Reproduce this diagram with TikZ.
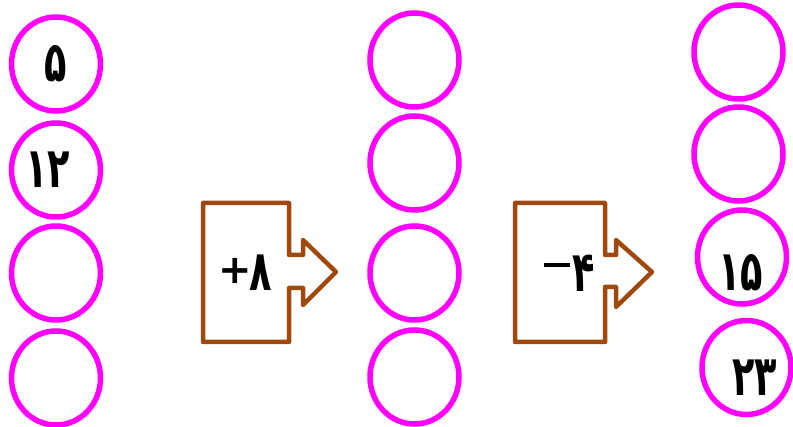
\documentclass[tikz,border=0pt]{standalone}
\usepackage{fontspec}
\usetikzlibrary{shapes.geometric}
\newfontfamily\fa[Script=Arabic]{DejaVu Sans}
\newfontfamily\dvs{DejaVu Sans}
\newcommand{\tall}[1]{\scalebox{1.08}[1.65]{#1}}
\definecolor{mag}{RGB}{255,0,255}
\definecolor{brn}{RGB}{158,74,14}
\tikzset{
  ring/.style={draw=mag, line width=5.5pt, ellipse, inner sep=0pt, minimum width=89pt, minimum height=94pt},
  num/.style={font=\fa\bfseries\fontsize{34}{38}\selectfont, text=black, inner sep=0pt},
  opbox/.style={draw=brn, line width=4.5pt, line join=round}
}
\begin{document}
\begin{tikzpicture}[x=1pt,y=-1pt]
\useasboundingbox (0,0) rectangle (793,427);
% left column
\node[ring] (a1) at (56,64) {};
\node[ring] (a2) at (56,170) {};
\node[ring] (a3) at (56,273) {};
\node[ring] (a4) at (56,378) {};
% middle column
\node[ring] (b1) at (414.5,60) {};
\node[ring] (b2) at (414.5,163) {};
\node[ring] (b3) at (414.5,273) {};
\node[ring] (b4) at (414.5,377) {};
% right column
\node[ring] (c1) at (738.5,52) {};
\node[ring] (c2) at (738.5,154) {};
\node[ring] (c3) at (742,257) {};
\node[ring] (c4) at (746.5,367.5) {};
% numbers
\node[num] (t1) at (56,64) {\tall{۵}};
\node[num] (t2) at (48,170) {\tall{۱۲}};
\node[num] (t3) at (741,273) {\tall{۱۵}};
\node[num] (t4) at (755,378) {\tall{۲۳}};
% operator boxes
\draw[opbox] (203,203) -- (289,203) -- (289,255) -- (303,255) -- (303,240) -- (336,272)
  -- (303,305) -- (303,288) -- (289,288) -- (289,342) -- (203,342) -- cycle;
\node[num, font=\dvs\bfseries\fontsize{40}{44}\selectfont] (p1s) at (235,271) {+};
\node[num] (p1) at (261,273) {\tall{۸}};
\draw[opbox] (515,203) -- (605,203) -- (605,255) -- (616,255) -- (616,240) -- (652,272)
  -- (616,307) -- (616,287) -- (605,287) -- (605,342) -- (515,342) -- cycle;
\node[inner sep=0pt, fill=black, minimum width=26pt, minimum height=3.5pt] (p2s) at (557,265) {};
\node[num] (p2) at (584,273) {\tall{۴}};
\end{tikzpicture}
\end{document}
